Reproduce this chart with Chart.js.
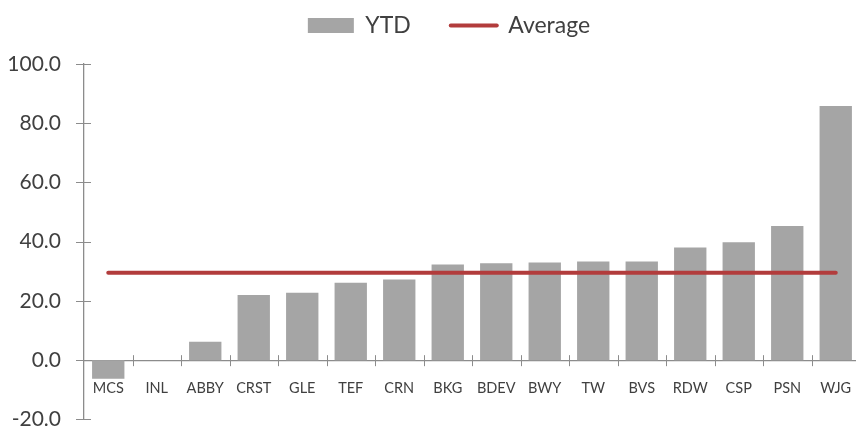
<!DOCTYPE html>
<html>
<head>
<meta charset="utf-8">
<script src="https://cdn.jsdelivr.net/npm/chart.js@4.4.1/dist/chart.umd.min.js"></script>
<style>
  html, body { margin: 0; padding: 0; background: #fff; overflow: hidden; }
  #wrap { width: 870px; height: 432px; position: relative; }
</style>
</head>
<body>
<div id="wrap"><canvas id="myChart"></canvas></div>
<script>
// data
var categories = ['MCS', 'INL', 'ABBY', 'CRST', 'GLE', 'TEF', 'CRN', 'BKG', 'BDEV', 'BWY', 'TW', 'BVS', 'RDW', 'CSP', 'PSN', 'WJG'];
var ytdValues = [-6.3, 0, 6.2, 22.0, 22.8, 26.1, 27.2, 32.3, 32.7, 33.0, 33.3, 33.3, 38.0, 39.8, 45.3, 85.8];
var averageValues = [29.5, 29.5, 29.5, 29.5, 29.5, 29.5, 29.5, 29.5, 29.5, 29.5, 29.5, 29.5, 29.5, 29.5, 29.5, 29.5];
var yTicks = [-20, 0, 20, 40, 60, 80, 100];

var barColor = '#a5a5a5';
var lineColor = '#b23c3c';
var axisColor = '#8c8c8c';
var textColor = '#404040';

// small crossing tick marks like the original (Excel style)
var crossTicks = {
    id: 'crossTicks',
    afterDraw: function(chart) {
        var ctx = chart.ctx;
        var x = chart.scales.x, y = chart.scales.y;
        var axisX = chart.chartArea.left;
        var axisY = y.getPixelForValue(0);
        ctx.save();
        ctx.strokeStyle = axisColor;
        ctx.lineWidth = 1;
        ctx.beginPath();
        yTicks.forEach(function(v) {
            var py = Math.round(y.getPixelForValue(v)) + 0.5;
            ctx.moveTo(axisX - 8, py);
            ctx.lineTo(axisX + 7, py);
        });
        for (var i = 1; i < categories.length; i++) {
            var px = Math.round((x.getPixelForValue(i - 1) + x.getPixelForValue(i)) / 2) + 0.5;
            ctx.moveTo(px, axisY - 5);
            ctx.lineTo(px, axisY + 6);
        }
        ctx.stroke();
        ctx.restore();
    }
};

// move the legend up and a little to the right
var legendShift = {
    id: 'legendShift',
    afterLayout: function(chart) {
        var lg = chart.legend;
        if (!lg) return;
        lg.top -= 26;
        lg.left += 19;
        lg.right += 19;
    }
};

var ctx = document.getElementById('myChart').getContext('2d');

var config = {
    type: 'bar',
    data: {
        labels: categories,
        datasets: [{
            type: 'line',
            label: 'Average',
            data: averageValues,
            borderColor: lineColor,
            backgroundColor: lineColor,
            borderWidth: 4,
            borderCapStyle: 'round',
            pointRadius: 0,
            fill: false,
            order: 1
        }, {
            label: 'YTD',
            data: ytdValues,
            backgroundColor: barColor,
            borderWidth: 0,
            categoryPercentage: 1,
            barPercentage: 0.667,
            order: 2
        }]
    },
    options: {
        responsive: true,
        maintainAspectRatio: false,
        animation: false,
        layout: { padding: { left: 0, right: 10, top: 0, bottom: 12 } },
        plugins: {
            tooltip: { enabled: false },
            legend: {
                position: 'top',
                maxHeight: 64,
                labels: {
                    usePointStyle: true,
                    pointStyleWidth: 46,
                    boxHeight: 15,
                    padding: 40,
                    font: { family: 'Lato', size: 23 },
                    color: textColor,
                    generateLabels: function() {
                        return [
                            { text: 'YTD', fillStyle: barColor, strokeStyle: barColor, lineWidth: 0, pointStyle: 'rect', fontColor: textColor, datasetIndex: 1 },
                            { text: 'Average', fillStyle: lineColor, strokeStyle: lineColor, lineWidth: 4, lineCap: 'round', pointStyle: 'line', fontColor: textColor, datasetIndex: 0 }
                        ];
                    }
                }
            }
        },
        scales: {
            x: {
                position: { y: 0 },
                z: 1,
                offset: true,
                // ticks themselves are drawn by the crossTicks plugin; tickLength only spaces the labels
                grid: { display: false, drawTicks: true, tickLength: 19 },
                border: { display: true, color: axisColor, width: 1.3 },
                ticks: {
                    color: textColor,
                    font: { family: 'Lato', size: 14.5 },
                    padding: 0,
                    maxRotation: 0,
                    autoSkip: false
                }
            },
            y: {
                min: -20,
                max: 100,
                afterFit: function(scale) { scale.width = 84; },
                afterBuildTicks: function(scale) {
                    scale.ticks = yTicks.map(function(v) { return { value: v }; });
                },
                grid: { display: false, drawTicks: true, tickLength: 23 },
                border: { display: true, color: axisColor, width: 1.3 },
                ticks: {
                    color: textColor,
                    font: { family: 'Lato', size: 21 },
                    padding: 0,
                    callback: function(v) { return Number(v).toFixed(1); }
                }
            }
        }
    },
    plugins: [crossTicks, legendShift]
};

var myChart = new Chart(ctx, config);
</script>
</body>
</html>
